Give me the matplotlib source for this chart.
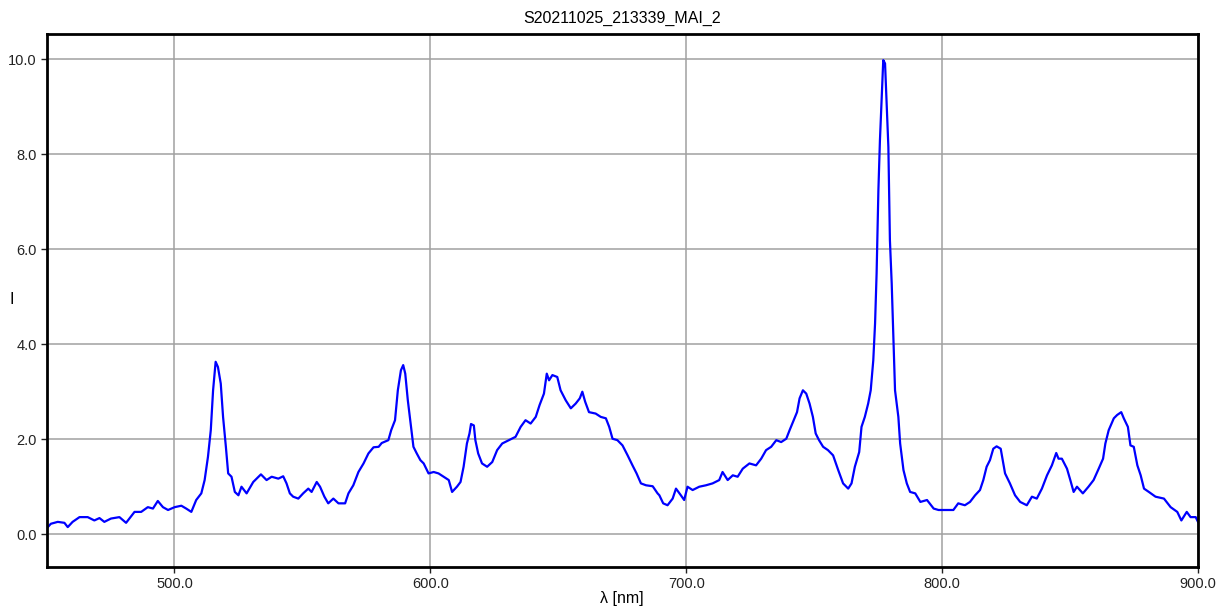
import numpy as np
import matplotlib.pyplot as plt

# ------------------------ datos del espectro ------------------------

titulo = "S20211025_213339_MAI_2"

# longitud de onda en nm
lam = [450.0, 451.7, 454.4, 457.0, 458.3, 460.2, 462.9, 466.1, 468.7, 470.7,
       472.6, 475.2, 478.5, 481.1, 484.4, 487.0, 489.6, 491.6, 493.5, 495.5,
       497.5, 500.1, 502.7, 504.6, 506.6, 508.5, 510.5, 511.8, 513.1, 514.2,
       515.1, 516.1, 517.0, 518.1, 519.0, 520.1, 521.0, 522.3, 523.6, 525.0,
       526.2, 528.2, 530.8, 532.1, 533.8, 536.0, 538.0, 540.6, 542.5, 543.8,
       545.1, 546.4, 548.4, 550.3, 552.3, 553.6, 555.6, 556.9, 558.6, 560.1,
       562.1, 564.1, 566.7, 568.0, 569.9, 571.9, 573.9, 575.8, 577.8, 579.8,
       581.0, 583.6, 584.7, 586.2, 587.3, 588.5, 589.4, 590.2, 591.2, 592.3,
       593.4, 594.7, 596.1, 597.4, 599.3, 601.3, 603.2, 605.2, 607.2, 608.5,
       610.4, 611.8, 613.0, 614.3, 615.3, 615.9, 617.0, 617.6, 618.7, 620.2,
       622.2, 624.2, 626.1, 628.1, 630.7, 633.3, 635.3, 637.2, 639.2, 641.2,
       642.7, 644.4, 645.5, 646.4, 647.7, 649.6, 650.9, 652.9, 654.9, 656.8,
       658.4, 659.4, 660.5, 662.0, 664.6, 666.6, 668.6, 669.9, 671.2, 673.1,
       675.1, 677.1, 679.0, 680.6, 682.3, 684.3, 686.9, 688.8, 689.5, 691.0,
       692.7, 694.7, 696.0, 697.9, 699.2, 700.5, 702.5, 705.1, 707.7, 710.3,
       712.9, 714.2, 716.2, 718.2, 720.1, 722.1, 724.7, 727.3, 729.3, 731.2,
       733.2, 735.2, 737.1, 739.1, 740.4, 742.0, 743.3, 744.3, 745.6, 746.9,
       748.2, 749.5, 750.6, 751.9, 753.5, 755.4, 757.4, 759.4, 761.3, 763.3,
       764.6, 765.9, 767.6, 768.5, 769.8, 771.1, 772.1, 773.1, 773.8, 774.4,
       775.1, 775.7, 776.4, 777.0, 777.7, 778.3, 779.0, 779.6, 780.3, 781.0,
       781.6, 782.9, 783.6, 784.9, 786.2, 787.5, 789.5, 791.5, 794.1, 796.7,
       798.6, 801.8, 804.4, 806.3, 808.9, 810.9, 812.9, 814.8, 816.1, 817.4,
       818.7, 820.0, 821.3, 822.9, 824.6, 826.5, 828.5, 830.5, 833.1, 835.1,
       837.0, 839.0, 841.0, 842.9, 844.6, 845.5, 846.8, 848.8, 850.1, 851.4,
       852.7, 855.0, 857.2, 859.2, 861.2, 862.9, 863.8, 865.1, 867.1, 868.4,
       870.0, 871.0, 872.6, 873.6, 874.9, 876.3, 877.6, 878.9, 880.8, 883.4,
       886.7, 889.3, 891.9, 893.5, 895.6, 897.1, 899.1, 900.0]

# intensidad
intensidad = [0.12, 0.22, 0.26, 0.24, 0.15, 0.26, 0.36, 0.36, 0.29, 0.34,
              0.26, 0.33, 0.36, 0.24, 0.47, 0.47, 0.57, 0.54, 0.70, 0.57,
              0.51, 0.57, 0.60, 0.54, 0.47, 0.72, 0.86, 1.14, 1.63, 2.19,
              3.03, 3.63, 3.52, 3.17, 2.47, 1.84, 1.28, 1.21, 0.89, 0.82,
              1.00, 0.86, 1.10, 1.17, 1.26, 1.14, 1.21, 1.17, 1.22, 1.07,
              0.86, 0.79, 0.75, 0.86, 0.96, 0.89, 1.10, 1.00, 0.79, 0.65,
              0.75, 0.65, 0.65, 0.86, 1.03, 1.31, 1.49, 1.70, 1.83, 1.84,
              1.92, 1.98, 2.19, 2.40, 3.03, 3.45, 3.56, 3.38, 2.82, 2.33,
              1.84, 1.70, 1.56, 1.49, 1.28, 1.31, 1.28, 1.21, 1.14, 0.89,
              1.00, 1.10, 1.42, 1.91, 2.12, 2.32, 2.29, 1.98, 1.70, 1.49,
              1.42, 1.52, 1.77, 1.91, 1.98, 2.05, 2.26, 2.40, 2.33, 2.47,
              2.72, 2.96, 3.38, 3.24, 3.35, 3.31, 3.03, 2.82, 2.65, 2.75,
              2.86, 3.00, 2.79, 2.57, 2.54, 2.47, 2.44, 2.26, 2.01, 1.98,
              1.87, 1.66, 1.45, 1.28, 1.07, 1.03, 1.01, 0.86, 0.82, 0.65,
              0.61, 0.75, 0.96, 0.82, 0.72, 1.00, 0.93, 1.00, 1.03, 1.07,
              1.14, 1.31, 1.14, 1.24, 1.21, 1.38, 1.49, 1.45, 1.59, 1.77,
              1.84, 1.98, 1.94, 2.01, 2.19, 2.40, 2.57, 2.86, 3.03, 2.96,
              2.75, 2.47, 2.12, 1.98, 1.84, 1.77, 1.66, 1.35, 1.07, 0.96,
              1.07, 1.42, 1.73, 2.26, 2.47, 2.75, 3.03, 3.66, 4.44, 5.49,
              7.24, 8.29, 9.21, 9.98, 9.91, 9.07, 8.15, 6.19, 5.28, 4.08,
              3.03, 2.47, 1.91, 1.35, 1.07, 0.89, 0.86, 0.68, 0.72, 0.54,
              0.51, 0.51, 0.51, 0.65, 0.61, 0.68, 0.82, 0.93, 1.14, 1.42,
              1.56, 1.80, 1.85, 1.80, 1.28, 1.07, 0.82, 0.68, 0.61, 0.79,
              0.75, 0.96, 1.24, 1.45, 1.71, 1.59, 1.59, 1.38, 1.14, 0.89,
              1.00, 0.86, 1.00, 1.14, 1.38, 1.59, 1.91, 2.19, 2.44, 2.51,
              2.57, 2.44, 2.26, 1.87, 1.84, 1.45, 1.24, 0.96, 0.89, 0.79,
              0.75, 0.57, 0.47, 0.29, 0.47, 0.36, 0.36, 0.26]

x_ticks = [500, 600, 700, 800, 900]
y_ticks = [0, 2, 4, 6, 8, 10]

# ------------------------------- dibujo -------------------------------

plt.rcParams['font.family'] = ['Liberation Sans', 'DejaVu Sans']

fig = plt.figure(figsize=(12.19, 6.15), dpi=100)
ax = fig.add_axes([46.5/1219, 48/615, 1151.5/1219, 533/615])

ax.plot(lam, intensidad, color="#0000ff", linewidth=1.6)

ax.set_xlim(450, 900)
ax.set_ylim(-0.69, 10.53)
ax.set_xticks(x_ticks)
ax.set_yticks(y_ticks)
ax.set_xticklabels(["%.1f" % v for v in x_ticks])
ax.set_yticklabels(["%.1f" % v for v in y_ticks])
ax.tick_params(labelsize=10.5, length=4, width=1, colors="#222222", pad=3)

ax.grid(True, color="#a0a0a0", linewidth=1.1)
ax.set_axisbelow(True)
for s in ax.spines.values():
    s.set_linewidth(2)
    s.set_color("black")

fig.text(622/1219, 1 - 18/615, titulo, ha="center", va="center", fontsize=11.5)
fig.text(12/1219, 1 - 300/615, "I", ha="center", va="center", fontsize=11.5)
fig.text(622/1219, 1 - 599/615, "λ [nm]", ha="center", va="center", fontsize=11.5)

fig.savefig("out.png", dpi=100)
